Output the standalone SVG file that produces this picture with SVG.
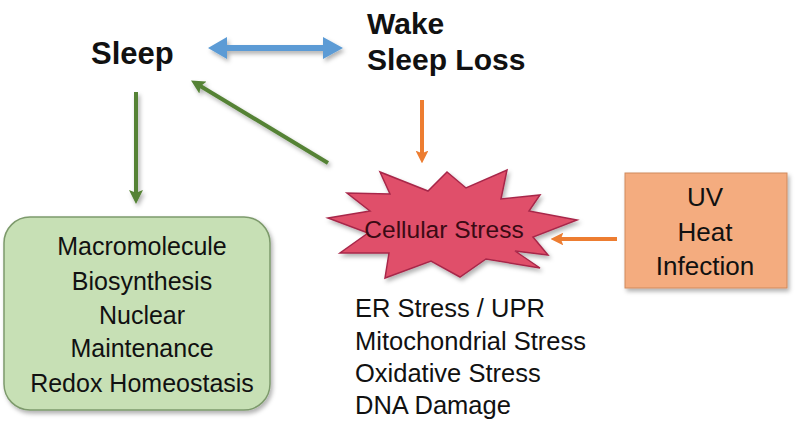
<svg xmlns="http://www.w3.org/2000/svg" width="800" height="428" viewBox="0 0 800 428">
  <style>
    text { font-family: "Liberation Sans", Arial, sans-serif; fill: #111; }
    .title { font-size: 30px; font-weight: bold; }
    .body { font-size: 25px; }
    .mid { text-anchor: middle; }
    .green { stroke: #548235; stroke-width: 4; fill: none; }
    .orange { stroke: #ed7d31; stroke-width: 4; fill: none; }
  </style>
  <defs>
    <filter id="shadow" filterUnits="userSpaceOnUse" x="0" y="0" width="800" height="428">
      <feDropShadow dx="2" dy="3" stdDeviation="2" flood-color="#000" flood-opacity="0.3"/>
    </filter>
    <marker id="gHead" viewBox="0 0 10 10" refX="5" refY="5" markerWidth="3.5" markerHeight="3.5" orient="auto" markerUnits="strokeWidth">
      <path d="M0,0 L10,5 L0,10 L2,5 Z" fill="#548235"/>
    </marker>
    <marker id="oHead" viewBox="0 0 10 10" refX="5" refY="5" markerWidth="3.2" markerHeight="3.2" orient="auto" markerUnits="strokeWidth">
      <path d="M0,0 L10,5 L0,10 L2,5 Z" fill="#ed7d31"/>
    </marker>
  </defs>

  <rect width="800" height="428" fill="#ffffff"/>

  <g id="connectors">
    <path id="blue-double" d="M208,48 L227,37 L227,45 L323,45 L323,37 L343,48 L323,59 L323,51 L227,51 L227,59 Z" fill="#5b9bd5" filter="url(#shadow)"/>
    <line class="green" x1="136" y1="92" x2="136" y2="197" marker-end="url(#gHead)" filter="url(#shadow)"/>
    <line class="green" x1="328" y1="163" x2="197" y2="84" marker-end="url(#gHead)" filter="url(#shadow)"/>
    <line class="orange" x1="422" y1="100" x2="422" y2="157" marker-end="url(#oHead)"/>
    <line class="orange" x1="617" y1="239" x2="557" y2="239" marker-end="url(#oHead)"/>
  </g>

  <g id="sleep">
    <text class="title" x="91" y="64" style="font-size:31px">Sleep</text>
  </g>

  <g id="wake">
    <text class="title" x="367" y="34">Wake</text>
    <text class="title" x="367" y="70">Sleep Loss</text>
  </g>

  <g id="cellular-stress">
    <polygon points="328,218 370,211 347,193 390,194 380,172 428,191 447,172 466,188 507,170 501,199 540,195 529,211 577,220 533,237 548,255 515,251 540,268 486,259 460,277 431,261 385,278 389,253 340,253 368,233" fill="#e0506a" stroke="#a8284a" stroke-width="1.5" stroke-linejoin="miter" filter="url(#shadow)"/>
    <text class="mid" x="444" y="238" style="font-size:24.5px; fill:#3b0a14;">Cellular Stress</text>
  </g>

  <g id="stress-list">
    <text class="body" x="355" y="317" style="font-size:25.5px">ER Stress / UPR</text>
    <text class="body" x="355" y="350" style="font-size:25.5px">Mitochondrial Stress</text>
    <text class="body" x="355" y="382" style="font-size:25.5px">Oxidative Stress</text>
    <text class="body" x="355" y="414" style="font-size:25.5px">DNA Damage</text>
  </g>

  <g id="stressors">
    <rect x="625" y="173" width="162" height="115" fill="#f4ac7f" stroke="#d08a5c" stroke-width="1" filter="url(#shadow)"/>
    <text class="body mid" x="705" y="206" style="font-size:26px">UV</text>
    <text class="body mid" x="705" y="241" style="font-size:26px">Heat</text>
    <text class="body mid" x="705" y="275" style="font-size:26px">Infection</text>
  </g>

  <g id="functions">
    <rect x="4" y="217" width="266" height="193" rx="26" ry="26" fill="#c7e0b5" stroke="#7d9a6c" stroke-width="1.5" filter="url(#shadow)"/>
    <text class="body mid" x="142" y="255">Macromolecule</text>
    <text class="body mid" x="142" y="290">Biosynthesis</text>
    <text class="body mid" x="142" y="324">Nuclear</text>
    <text class="body mid" x="142" y="357">Maintenance</text>
    <text class="body mid" x="142" y="392">Redox Homeostasis</text>
  </g>
</svg>
